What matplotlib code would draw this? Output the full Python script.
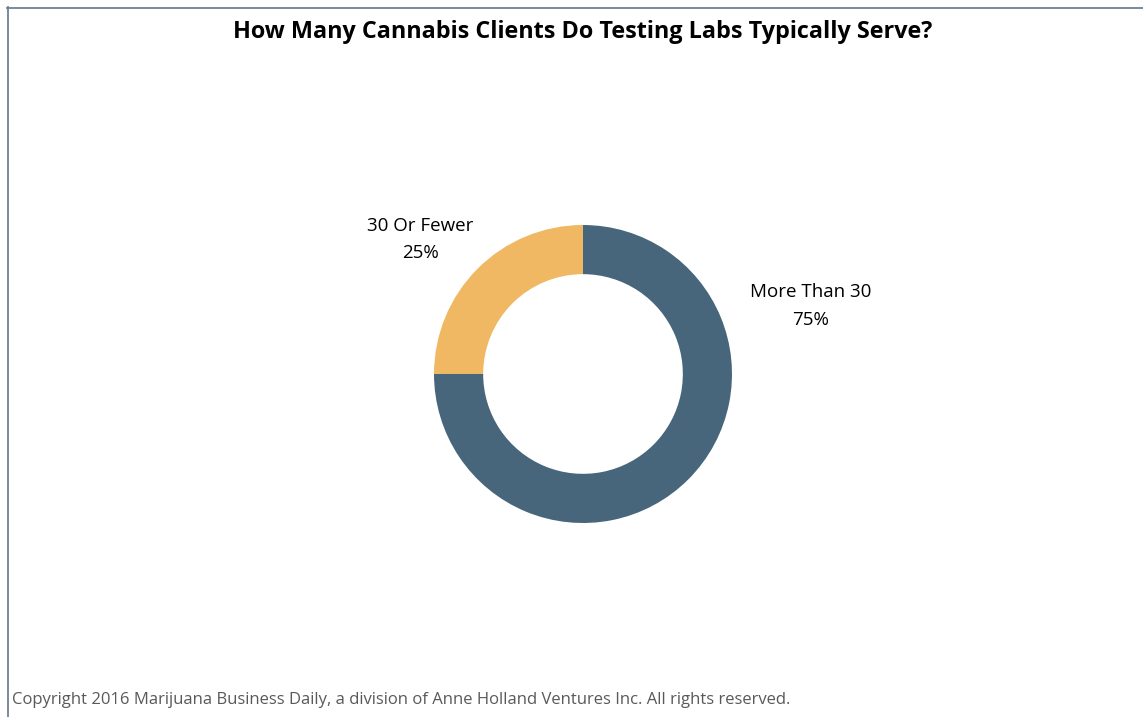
import matplotlib
matplotlib.use("Agg")
import matplotlib.pyplot as plt
from matplotlib.lines import Line2D

categories = ["More Than 30", "30 Or Fewer"]
values = [75, 25]
colors = ["#48667B", "#F0B862"]
title = "How Many Cannabis Clients Do Testing Labs Typically Serve?"
copyright_text = "Copyright 2016 Marijuana Business Daily, a division of Anne Holland Ventures Inc. All rights reserved."

W, H = 1143, 717
fig = plt.figure(figsize=(W / 100, H / 100), dpi=100)
plt.rcParams['font.family'] = ['Open Sans', 'DejaVu Sans']

cx, cy, R = 583, 374, 149
ax = fig.add_axes([(cx - R) / W, (H - cy - R) / H, 2 * R / W, 2 * R / H])
ax.pie(values, colors=colors, startangle=90, counterclock=False, radius=1,
       wedgeprops=dict(width=0.33, edgecolor='none'))
ax.set_xlim(-1, 1)
ax.set_ylim(-1, 1)
ax.set_aspect('equal')
ax.axis('off')

# border lines (top and left)
fig.add_artist(Line2D([7 / W, 1], [1 - 7.5 / H, 1 - 7.5 / H], transform=fig.transFigure, color="#6E8294", lw=1.3))
fig.add_artist(Line2D([7.5 / W, 7.5 / W], [0, 1 - 7 / H], transform=fig.transFigure, color="#6E8294", lw=1.3))

fig.text(582.5 / W, 1 - 32.5 / H, title, ha='center', va='center', fontsize=16.8, fontweight='bold', color='black')

label_fs = 13.5
fig.text(811 / W, 1 - 292 / H, categories[0], ha='center', va='center', fontsize=label_fs, color='black')
fig.text(811 / W, 1 - 320 / H, f"{values[0]}%", ha='center', va='center', fontsize=label_fs, color='black')
fig.text(420.5 / W, 1 - 226 / H, categories[1], ha='center', va='center', fontsize=label_fs, color='black')
fig.text(420.5 / W, 1 - 253 / H, f"{values[1]}%", ha='center', va='center', fontsize=label_fs, color='black')

fig.text(12 / W, 1 - 700.5 / H, copyright_text, ha='left', va='center', fontsize=12, color='#595959')

fig.savefig("out.png", dpi=100)
